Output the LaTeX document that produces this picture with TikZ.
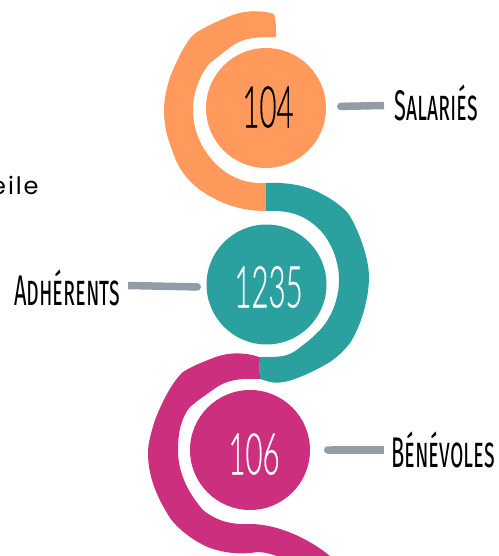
\documentclass[tikz,border=0pt]{standalone}
\usepackage{fontspec}
\usetikzlibrary{arrows.meta}
\newfontfamily\labfont[Letters=SmallCaps]{Fira Sans}
\newfontfamily\numfont[UprightFont={* Light},UprightFeatures={FakeBold=0.6}]{Lato}
\newfontfamily\restfont[LetterSpace=8]{Poppins}
\definecolor{orangeband}{HTML}{FF9A5C}
\definecolor{tealband}{HTML}{2BA19F}
\definecolor{pinkband}{HTML}{CC2F7D}
\definecolor{greyline}{HTML}{929CA6}
\newcommand{\lab}[1]{\scalebox{0.66}[1.3]{\fontsize{33}{33}\labfont #1}}
\newcommand{\num}[1]{\scalebox{0.64}[1.25]{\fontsize{46}{46}\numfont #1}}
\tikzset{
  disc/.style={circle,minimum size=120pt,inner sep=0pt},
  labeltext/.style={inner sep=0pt,text=black},
  leader/.style={draw=greyline,line width=7.5pt},
}
\begin{document}
\begin{tikzpicture}[x=1pt,y=-1pt]
\useasboundingbox (0,0) rectangle (498,556);
\clip (0,0) rectangle (498,556);
% orange band
\fill[orangeband] (274,14) .. controls (262,10) and (245,10) .. (230,16)
  .. controls (218,21) and (207,26) .. (197,32)
  .. controls (187,38) and (177,60) .. (170,77)
  .. controls (166,90) and (164,100) .. (164,110)
  .. controls (164,125) and (167,137) .. (172,150)
  .. controls (178,168) and (185,178) .. (200,190)
  .. controls (215,200) and (235,211) .. (266,211)
  -- (266,183)
  .. controls (245,184) and (228,177) .. (214,162)
  .. controls (201,148) and (193,130) .. (193,110)
  .. controls (193,92) and (200,74) .. (210,63)
  .. controls (218,57) and (225,51) .. (232,46)
  .. controls (243,38) and (255,37) .. (276,37)
  .. controls (276,28) and (276,20) .. (274,14) -- cycle;
% teal band
\fill[tealband] (266,183) .. controls (285,182) and (305,185) .. (320,193)
  .. controls (332,199) and (340,205) .. (347,212)
  .. controls (355,222) and (369,255) .. (369,277)
  .. controls (369,300) and (360,328) .. (350,343)
  .. controls (343,352) and (337,357) .. (330,362)
  .. controls (320,368) and (310,373) .. (300,377)
  .. controls (290,381) and (280,384) .. (270,382)
  -- (260,379) -- (259,357)
  .. controls (270,357) and (278,357) .. (283,356)
  .. controls (292,354) and (297,350) .. (303,345)
  .. controls (310,340) and (315,335) .. (320,330)
  .. controls (332,317) and (339,298) .. (339,280)
  .. controls (339,262) and (332,243) .. (320,230)
  .. controls (305,215) and (290,210) .. (266,211) -- cycle;
% pink band
\fill[pinkband] (259,357) .. controls (245,352) and (228,352) .. (213,358)
  .. controls (203,362) and (192,366) .. (183,372)
  .. controls (172,382) and (162,402) .. (155,420)
  .. controls (151,433) and (148,443) .. (148,453)
  .. controls (148,475) and (156,495) .. (167,513)
  .. controls (175,528) and (195,542) .. (210,548)
  .. controls (225,553) and (240,555) .. (257,552)
  .. controls (270,552) and (285,558) .. (300,570)
  -- (345,570) -- (330,556)
  .. controls (312,541) and (280,524) .. (250,524)
  .. controls (230,525) and (215,520) .. (203,510)
  .. controls (190,495) and (178,475) .. (178,450)
  .. controls (178,430) and (182,417) .. (190,407)
  .. controls (198,400) and (207,394) .. (217,387)
  .. controls (228,380) and (240,378) .. (260,379) -- cycle;
% discs
\node[disc,fill=orangeband] (c1) at (266,108) {};
\node[disc,fill=tealband] (c2) at (266.5,284.5) {};
\node[disc,fill=pinkband] (c3) at (250,450) {};
\node[labeltext] at (268,107) {\num{104}};
\node[labeltext,text=white] at (268.5,287) {\num{1235}};
\node[labeltext,text=white] at (254,454) {\num{106}};
% labels
\node[labeltext] (l1) at (436,103) {\lab{Salariés}};
\node[labeltext] (l2) at (67,288) {\lab{Adhérents}};
\node[labeltext] (l3) at (443,450) {\lab{Bénévoles}};
\node[inner sep=0pt,anchor=base west] (rest) at (-9,194) {\fontsize{24}{24}\restfont eile};
% leaders
\coordinate (a1) at (337,106.5);
\coordinate (b1) at (384,105.5);
\coordinate (a2) at (128,285.5);
\coordinate (b2) at (201,287);
\coordinate (a3) at (324,450);
\coordinate (b3) at (384,450);
\draw[leader,{Round Cap[]}-] (a1) -- (b1);
\draw[leader,-{Round Cap[]}] (a2) -- (b2);
\draw[leader,{Round Cap[]}-] (a3) -- (b3);
\end{tikzpicture}
\end{document}
